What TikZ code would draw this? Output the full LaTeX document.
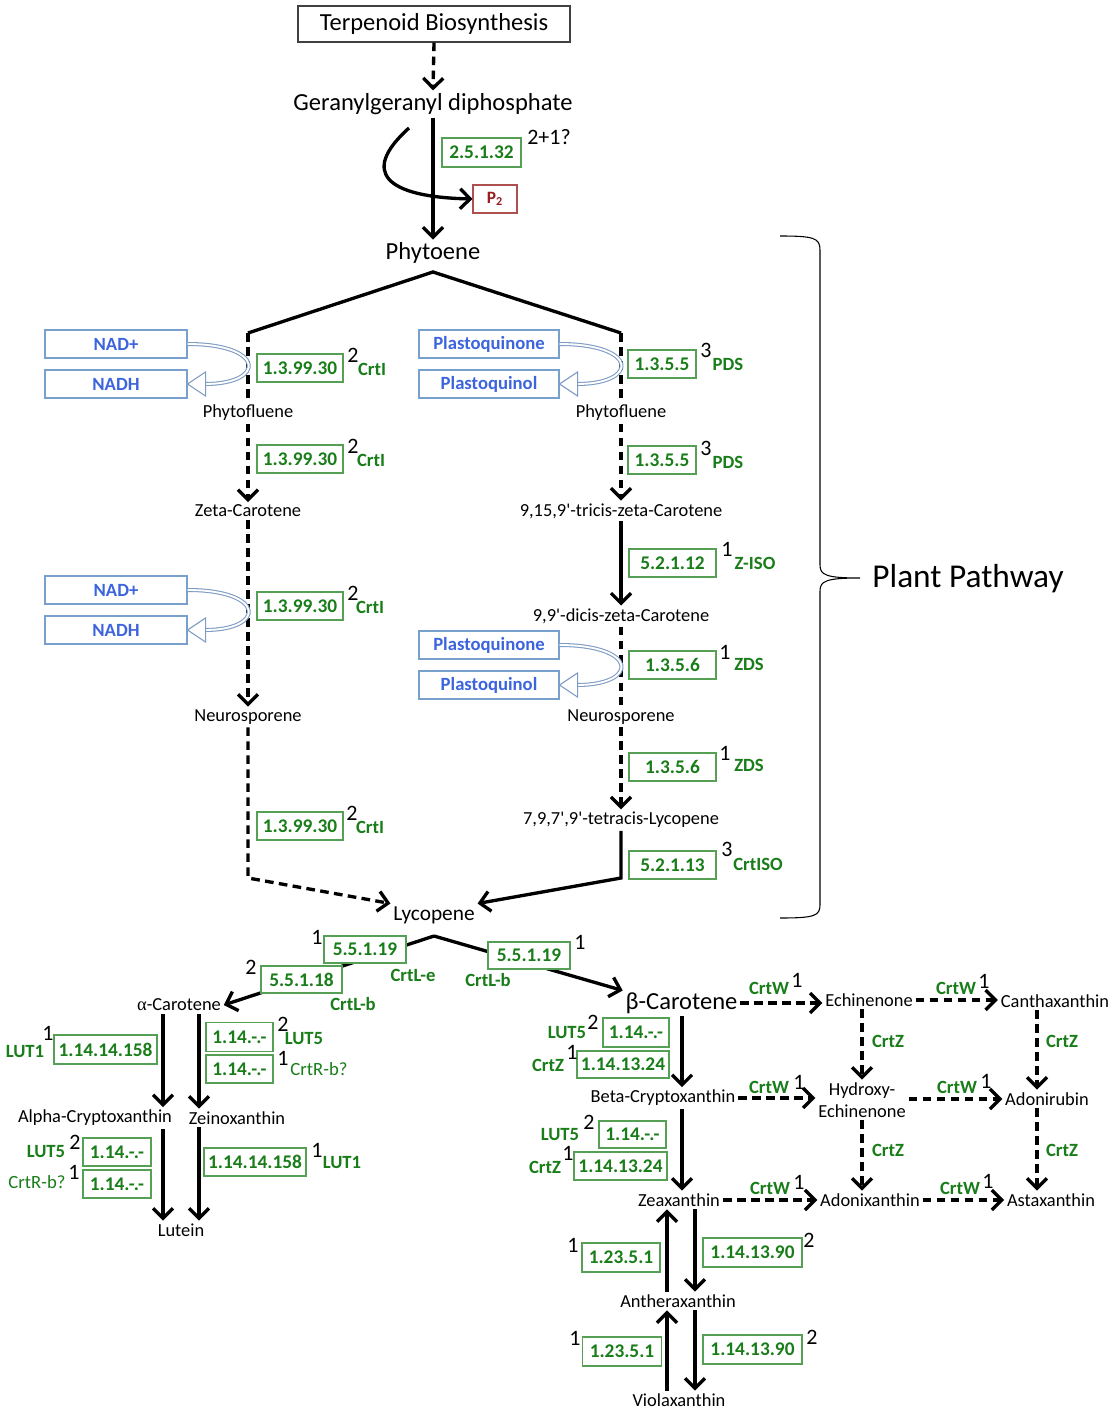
\documentclass[tikz,border=0pt]{standalone}
\usepackage{fontspec}
\setmainfont{Carlito}
\newfontfamily\serifg{Liberation Serif}
\usetikzlibrary{arrows.meta}
\definecolor{egreen}{RGB}{25,125,25}
\definecolor{eboxc}{RGB}{85,160,85}
\definecolor{eblue}{RGB}{60,100,220}
\definecolor{bboxc}{RGB}{120,160,205}
\definecolor{bcurve}{RGB}{125,155,195}
\definecolor{pred}{RGB}{150,30,30}
\definecolor{pbox}{RGB}{175,80,80}
\tikzset{
  ew/.style={minimum width=#1*0.75pt},
  eh/.style={minimum height=#1*0.75pt},
  lab/.style={font=\fontsize{13.8}{16}\selectfont, inner sep=2pt},
  big/.style={font=\fontsize{18.4}{22}\selectfont, inner sep=2pt},
  ebox/.style={draw=eboxc, line width=0.8pt, fill=white, text=egreen, font=\bfseries\fontsize{14.5}{16}\selectfont, inner sep=0pt, eh=28},
  bbox/.style={draw=bboxc, line width=0.8pt, fill=white, text=eblue, font=\bfseries\fontsize{14}{16}\selectfont, inner sep=0pt, eh=28},
  gene/.style={text=egreen, font=\bfseries\fontsize{14}{16}\selectfont, inner sep=1pt},
  genen/.style={text=egreen, font=\fontsize{14}{16}\selectfont, inner sep=1pt},
  sup/.style={font=\fontsize{16.5}{18}\selectfont, inner sep=1pt},
  ln/.style={line width=2.5pt},
  arr/.style={line width=2.5pt, -{Straight Barb[length=7.5pt,width=15pt]}},
  dsh/.style={dash pattern=on 6.5pt off 4pt},
  bcurv/.style={draw=bcurve, double=white, double distance=1.4pt, line width=0.8pt},
  btri/.style={draw=bcurve, fill=white, line width=0.8pt, line join=miter},
}
\begin{document}
\begin{tikzpicture}[x=0.75pt,y=-0.75pt]
\fill[white] (0,0) rectangle (1114,1412);
\useasboundingbox (0,0) rectangle (1114,1412);

% ---------- top ----------
\node[draw=black!75, line width=0.8pt, big, ew=272, eh=36] (terp) at (434,24) {Terpenoid Biosynthesis};
\node[big] (ggpp) at (433,104) {Geranylgeranyl diphosphate};
\node[big] (phyt) at (433,253) {Phytoene};
\draw[arr, dsh] (terp.south) -- (ggpp.north);
\draw[arr] (ggpp.south) -- (phyt.north);
\node[draw=pbox, line width=0.8pt, fill=white, text=pred, font=\bfseries\fontsize{13}{15}\selectfont, ew=44, eh=28, inner sep=0pt] (p2) at (495,199) {P\textsubscript{2}};
\coordinate (pp) at (409,128);
\draw[arr] (pp) .. controls (360,172) and (385,197) .. (p2.west);
\node[ebox, ew=79, eh=29] (e2512) at (481.5,152.5) {2.5.1.32};
\node[sup] (s0) at (549,137) {2+1?};

% ---------- split ----------
\coordinate (ptop) at (433,272);
\coordinate (lc1) at (248,333);
\coordinate (rc1) at (621,333);
\draw[ln, line join=miter] (lc1) -- (ptop) -- (rc1);

% ---------- left column ----------
\node[lab] (pfl) at (248,413) {Phytofluene};
\node[lab] (zc) at (248,511) {Zeta-Carotene};
\node[lab] (nl) at (248,717) {Neurosporene};
\node[font=\fontsize{16}{18}\selectfont, inner sep=2pt] (lyc) at (434,915) {Lycopene};
\coordinate (lc2) at (248,878);
\draw[ln, dsh] (lc1) -- (pfl.north);
\draw[arr, dsh] (pfl.south) -- (zc.north);
\draw[arr, dsh] (zc.south) -- (nl.north);
\draw[arr, dsh] (nl.south) -- (lc2) -- (lyc.north west);

% ---------- right column ----------
\node[lab] (pfr) at (621,413) {Phytofluene};
\node[lab] (tri) at (621,511) {9,15,9\textquotesingle-tricis-zeta-Carotene};
\node[lab] (dic) at (621,616) {9,9\textquotesingle-dicis-zeta-Carotene};
\node[lab] (nr) at (621,717) {Neurosporene};
\node[lab] (tet) at (621,820) {7,9,7\textquotesingle,9\textquotesingle-tetracis-Lycopene};
\coordinate (rc2) at (621,878);
\draw[ln, dsh] (rc1) -- (pfr.north);
\draw[arr, dsh] (pfr.south) -- (tri.north);
\draw[arr] (tri.south) -- (dic.north);
\draw[ln, dsh] (dic.south) -- (nr.north);
\draw[arr, dsh] (nr.south) -- (tet.north);
\draw[arr] (tet.south) -- (rc2) -- (lyc.north east);

% ---------- cofactors ----------
\node[bbox, ew=142] (nad1) at (116,344) {NAD+};
\node[bbox, ew=142] (nadh1) at (116,384) {NADH};
\draw[bcurv] (nad1.east) .. controls (266,344) and (266,384) .. (205,384);
\draw[btri] (nadh1.east) -- ++(18,-12) -- ++(0,24) -- cycle;
\node[bbox, ew=142] (nad2) at (116,590) {NAD+};
\node[bbox, ew=142] (nadh2) at (116,630) {NADH};
\draw[bcurv] (nad2.east) .. controls (266,590) and (266,630) .. (205,630);
\draw[btri] (nadh2.east) -- ++(18,-12) -- ++(0,24) -- cycle;
\node[bbox, ew=140] (pq1) at (489,344) {Plastoquinone};
\node[bbox, ew=140] (pql1) at (489,384) {Plastoquinol};
\draw[bcurv] (pq1.east) .. controls (639,344) and (639,384) .. (577,384);
\draw[btri] (pql1.east) -- ++(18,-12) -- ++(0,24) -- cycle;
\node[bbox, ew=140] (pq2) at (489,645) {Plastoquinone};
\node[bbox, ew=140] (pql2) at (489,685) {Plastoquinol};
\draw[bcurv] (pq2.east) .. controls (639,645) and (639,685) .. (577,685);
\draw[btri] (pql2.east) -- ++(18,-12) -- ++(0,24) -- cycle;

% ---------- enzymes, left column ----------
\node[ebox, ew=86] (el1) at (300,368) {1.3.99.30};
\node[sup] (sl1) at (353,355) {2};
\node[gene] (gl1) at (372,369) {CrtI};
\node[ebox, ew=86] (el2) at (300,459) {1.3.99.30};
\node[sup] (sl2) at (353,446) {2};
\node[gene] (gl2) at (371,460) {CrtI};
\node[ebox, ew=86] (el3) at (300,606) {1.3.99.30};
\node[sup] (sl3) at (353,593) {2};
\node[gene] (gl3) at (370,607) {CrtI};
\node[ebox, ew=86] (el4) at (300,826) {1.3.99.30};
\node[sup] (sl4) at (352,813) {2};
\node[gene] (gl4) at (370,827) {CrtI};

% ---------- enzymes, right column ----------
\node[ebox, ew=68] (er1) at (662,364) {1.3.5.5};
\node[sup] (sr1) at (706,350) {3};
\node[gene] (gr1) at (728,364) {PDS};
\node[ebox, ew=68] (er2) at (662,460) {1.3.5.5};
\node[sup] (sr2) at (706,448) {3};
\node[gene] (gr2) at (728,462) {PDS};
\node[ebox, ew=87] (er3) at (672.5,563) {5.2.1.12};
\node[sup] (sr3) at (727,549) {1};
\node[gene] (gr3) at (755,563) {Z-ISO};
\node[ebox, ew=87] (er4) at (672.5,665) {1.3.5.6};
\node[sup] (sr4) at (725,652) {1};
\node[gene] (gr4) at (749,664) {ZDS};
\node[ebox, ew=87] (er5) at (672.5,767) {1.3.5.6};
\node[sup] (sr5) at (725,753) {1};
\node[gene] (gr5) at (749,765) {ZDS};
\node[ebox, ew=87] (er6) at (672.5,865) {5.2.1.13};
\node[sup] (sr6) at (727,849) {3};
\node[gene] (gr6) at (758,864) {CrtISO};

% ---------- bracket ----------
\node[font=\fontsize{25}{30}\selectfont, inner sep=2pt] (plant) at (968,579) {Plant Pathway};
\draw[line width=0.8pt] (780,236) .. controls (814,236) and (820,238) .. (820,250) -- (820,565)
  .. controls (820,575) and (826,578) .. (860,578)
  .. controls (826,578) and (820,581) .. (820,591) -- (820,905)
  .. controls (820,916) and (814,918) .. (780,918);

% ---------- lycopene split ----------
\node[lab] (acar) at (179,1005) {{\serifg α}-Carotene};
\node[big] (bcar) at (681.5,1003) {β-Carotene};
\coordinate (lsplit) at (434,936);
\draw[arr] (lsplit) -- (acar.east);
\draw[arr] (lsplit) -- (bcar.168);
\node[ebox, ew=82, eh=27] (ec1) at (365,949.5) {5.5.1.19};
\node[sup] (sc1) at (317,937) {1};
\node[gene] (gc1) at (413,975) {CrtL-e};
\node[ebox, ew=81, eh=27] (ec2) at (301.5,979.5) {5.5.1.18};
\node[sup] (sc2) at (251,967) {2};
\node[gene] (gc2) at (353,1004) {CrtL-b};
\node[ebox, ew=82, eh=27] (ec3) at (529,955.5) {5.5.1.19};
\node[sup] (sc3) at (580,942) {1};
\node[gene] (gc3) at (488,980) {CrtL-b};

% ---------- alpha branch ----------
\node[lab] (acx) at (95,1118) {Alpha-Cryptoxanthin};
\node[lab] (zein) at (237,1118) {Zeinoxanthin};
\node[lab] (lut) at (181,1230) {Lutein};
\coordinate (xa) at (163,0);
\coordinate (xb) at (199,0);
\draw[arr] (acar.south -| xa) -- (acx.north -| xa);
\draw[arr] (acar.south -| xb) -- (zein.north -| xb);
\draw[arr] (acx.south -| xa) -- (lut.north -| xa);
\draw[arr] (zein.south -| xb) -- (lut.north -| xb);
\node[ebox, ew=103, eh=29] (ea1) at (105.5,1049.5) {1.14.14.158};
\node[sup] (sa1) at (48,1033) {1};
\node[gene] (ga1) at (25,1051) {LUT1};
\node[ebox, ew=67, eh=29] (ea2) at (239.5,1037) {1.14.-.-};
\node[sup] (sa2) at (283,1024) {2};
\node[gene] (ga2) at (304,1039) {LUT5};
\node[ebox, ew=67] (ea3) at (239.5,1069) {1.14.-.-};
\node[sup] (sa3) at (283,1058) {1};
\node[genen] (ga3) at (319,1069) {CrtR-b?};
\node[ebox, ew=68] (ea4) at (117,1152) {1.14.-.-};
\node[sup] (sa4) at (75,1142) {2};
\node[gene] (ga4) at (46,1152) {LUT5};
\node[ebox, ew=68] (ea5) at (117,1184) {1.14.-.-};
\node[sup] (sa5) at (74,1172) {1};
\node[genen] (ga5) at (37,1182) {CrtR-b?};
\node[ebox, ew=102] (ea6) at (255,1162) {1.14.14.158};
\node[sup] (sa6) at (317,1150) {1};
\node[gene] (ga6) at (342,1162) {LUT1};

% ---------- beta branch ----------
\node[lab] (ech) at (869,1000) {Echinenone};
\node[lab] (can) at (1055,1001) {Canthaxanthin};
\node[lab] (bcx) at (663,1098) {Beta-Cryptoxanthin};
\node[lab, align=center, font=\fontsize{13.8}{16.5}\selectfont] (hyd) at (862,1100) {Hydroxy-\\Echinenone};
\node[lab] (adr) at (1047,1099) {Adonirubin};
\node[lab] (zea) at (679,1200) {Zeaxanthin};
\node[lab] (adx) at (870,1200) {Adonixanthin};
\node[lab] (ast) at (1051,1200) {Astaxanthin};
\coordinate (xg) at (682,0);
\coordinate (xe) at (862,0);
\coordinate (xc) at (1037,0);
\draw[arr] (bcar.south -| xg) -- (bcx.north -| xg);
\draw[arr] (bcx.south -| xg) -- (zea.north -| xg);
\draw[arr, dsh] (bcar.east) -- (bcar.east -| ech.west);
\draw[arr, dsh] (ech.east) -- (ech.east -| can.west);
\draw[arr, dsh] (bcx.east) -- (bcx.east -| hyd.west);
\draw[arr, dsh] (hyd.east |- adr.west) -- (adr.west);
\draw[arr, dsh] (zea.east) -- (zea.east -| adx.west);
\draw[arr, dsh] (adx.east) -- (adx.east -| ast.west);
\draw[arr, dsh] (ech.south -| xe) -- (hyd.north -| xe);
\draw[arr, dsh] (hyd.south -| xe) -- (adx.north -| xe);
\draw[arr, dsh] (can.south -| xc) -- (adr.north -| xc);
\draw[arr, dsh] (adr.south -| xc) -- (ast.north -| xc);
\node[gene] (w1) at (769,988) {CrtW};   \node[sup] (w1s) at (797,980) {1};
\node[gene] (w2) at (956,988) {CrtW};   \node[sup] (w2s) at (984,981) {1};
\node[gene] (w3) at (769,1087) {CrtW};  \node[sup] (w3s) at (799,1082) {1};
\node[gene] (w4) at (957,1087) {CrtW};  \node[sup] (w4s) at (986,1081) {1};
\node[gene] (w5) at (770,1188) {CrtW};  \node[sup] (w5s) at (799,1182) {1};
\node[gene] (w6) at (960,1188) {CrtW};  \node[sup] (w6s) at (988,1181) {1};
\node[gene] (z1) at (888,1041) {CrtZ};
\node[gene] (z2) at (1062,1041) {CrtZ};
\node[gene] (z3) at (888,1150) {CrtZ};
\node[gene] (z4) at (1062,1150) {CrtZ};
\node[ebox, ew=66, eh=29] (eb1) at (636,1032.5) {1.14.-.-};
\node[sup] (sb1) at (593,1022) {2};
\node[gene] (gb1) at (567,1033) {LUT5};
\node[ebox, ew=92, eh=27] (eb2) at (623,1064.5) {1.14.13.24};
\node[sup] (sb2) at (572,1052) {1};
\node[gene] (gb2) at (548,1065) {CrtZ};
\node[ebox, ew=67, eh=27] (eb3) at (632.5,1134.5) {1.14.-.-};
\node[sup] (sb3) at (589,1122) {2};
\node[gene] (gb3) at (560,1135) {LUT5};
\node[ebox, ew=93] (eb4) at (620.5,1166) {1.14.13.24};
\node[sup] (sb4) at (568,1153) {1};
\node[gene] (gb4) at (545,1167) {CrtZ};

% ---------- xanthophyll cycle ----------
\node[lab] (anth) at (678,1301) {Antheraxanthin};
\node[lab] (vio) at (679,1400) {Violaxanthin};
\coordinate (xu) at (667,0);
\coordinate (xd) at (695,0);
\draw[arr] (anth.north -| xu) -- (zea.south -| xu);
\draw[arr] (zea.south -| xd) -- (anth.north -| xd);
\draw[arr] (vio.north -| xu) -- (anth.south -| xu);
\draw[arr] (anth.south -| xd) -- (vio.north -| xd);
\node[ebox, ew=78, eh=29] (ex1) at (621,1257.5) {1.23.5.1};
\node[sup] (sx1) at (573,1245) {1};
\node[ebox, ew=99, eh=29] (ex2) at (752.5,1252.5) {1.14.13.90};
\node[sup] (sx2) at (809,1240) {2};
\node[ebox, ew=79, eh=29] (ex3) at (622,1351.5) {1.23.5.1};
\node[sup] (sx3) at (575,1338) {1};
\node[ebox, ew=99, eh=29] (ex4) at (752.5,1349.5) {1.14.13.90};
\node[sup] (sx4) at (812,1337) {2};
\end{tikzpicture}
\end{document}
